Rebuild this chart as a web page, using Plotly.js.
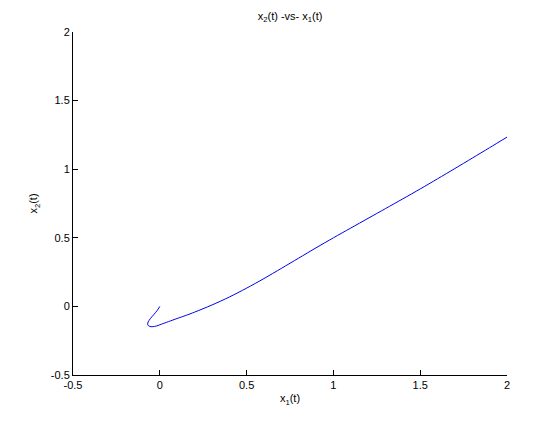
<!DOCTYPE html>
<html>
<head>
<meta charset="utf-8">
<script src="https://cdn.plot.ly/plotly-3.0.1.min.js"></script>
<style>html,body{margin:0;padding:0;background:#fff;}#chart{width:560px;height:421px;}</style>
</head>
<body>
<div id="chart"></div>
<script>
var x1 = [0, -0.015, -0.035, -0.055, -0.067, -0.07, -0.064, -0.05, -0.03, -0.01, 0, 0.05, 0.1, 0.15, 0.2, 0.3, 0.4, 0.5, 0.6, 0.7, 0.8, 0.9, 1.0, 1.1, 1.2, 1.3, 1.4, 1.5, 1.6, 1.7, 1.8, 1.9, 2.0];
var x2 = [0, -0.03, -0.06, -0.09, -0.113, -0.13, -0.142, -0.148, -0.146, -0.139, -0.134, -0.111, -0.088, -0.066, -0.042, 0.01, 0.068, 0.133, 0.203, 0.277, 0.352, 0.427, 0.5, 0.571, 0.642, 0.713, 0.784, 0.856, 0.93, 1.005, 1.081, 1.157, 1.234];
var xTicks = [-0.5, 0, 0.5, 1, 1.5, 2];
var yTicks = [-0.5, 0, 0.5, 1, 1.5, 2];
var xTickText = ['-0.5', '0', '0.5', '1', '1.5', '2'];
var yTickText = ['-0.5', '0', '0.5', '1', '1.5', '2'];

var font = {family: 'Liberation Sans, Arial, sans-serif', size: 11, color: '#000'};
var trace = {x: x1, y: x2, type: 'scatter', mode: 'lines', line: {color: '#0000ee', width: 1, shape: 'spline', smoothing: 0.8}, hoverinfo: 'none'};
var axisCommon = {showgrid: false, zeroline: false, showline: true, linecolor: '#000', linewidth: 1,
  ticks: 'inside', ticklen: 5, tickcolor: '#000', tickfont: font, tickmode: 'array', mirror: false};
var layout = {
  width: 560, height: 421,
  margin: {l: 73, r: 53, t: 32, b: 46},
  paper_bgcolor: '#fff', plot_bgcolor: '#fff',
  showlegend: false,
  font: font,
  title: {text: 'x<sub>2</sub>(t) -vs- x<sub>1</sub>(t)', font: font, x: 0.518, xanchor: 'center', y: 0.962, yanchor: 'middle'},
  xaxis: Object.assign({}, axisCommon, {range: [-0.5, 2], tickvals: xTicks, ticktext: xTickText,
    title: {text: 'x<sub>1</sub>(t)', font: font, standoff: 4}}),
  yaxis: Object.assign({}, axisCommon, {range: [-0.5, 2], tickvals: yTicks, ticktext: yTickText,
    title: {text: 'x<sub>2</sub>(t)', font: font, standoff: 10}})
};
Plotly.newPlot('chart', [trace], layout, {staticPlot: true, displayModeBar: false});
</script>
</body>
</html>
